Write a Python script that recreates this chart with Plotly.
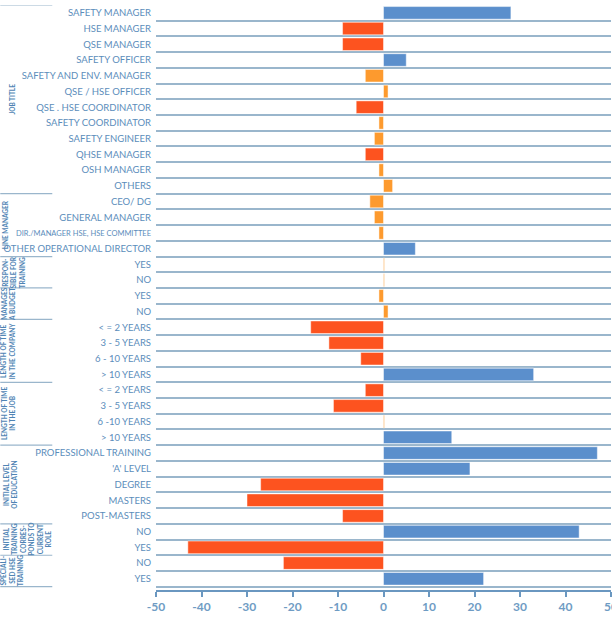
import plotly.graph_objects as go

# ---------------- data ----------------
labels = [
    "SAFETY MANAGER", "HSE MANAGER", "QSE MANAGER", "SAFETY OFFICER",
    "SAFETY AND ENV. MANAGER", "QSE / HSE OFFICER", "QSE . HSE COORDINATOR",
    "SAFETY COORDINATOR", "SAFETY ENGINEER", "QHSE MANAGER", "OSH MANAGER", "OTHERS",
    "CEO/ DG", "GENERAL MANAGER", "DIR./MANAGER HSE, HSE COMMITTEE", "OTHER OPERATIONAL DIRECTOR",
    "YES", "NO", "YES", "NO",
    "< = 2 YEARS", "3 - 5 YEARS", "6 - 10 YEARS", "> 10 YEARS",
    "< = 2 YEARS", "3 - 5 YEARS", "6 -10 YEARS", "> 10 YEARS",
    "PROFESSIONAL TRAINING", "'A' LEVEL", "DEGREE", "MASTERS", "POST-MASTERS",
    "NO", "YES", "NO", "YES",
]
values = [
    28, -9, -9, 5, -4, 1, -6, -1, -2, -4, -1, 2,
    -3, -2, -1, 7,
    0.2, 0.2, -1, 1,
    -16, -12, -5, 33,
    -4, -11, 0.2, 15,
    47, 19, -27, -30, -9,
    43, -43, -22, 22,
]
# colour class of each bar: b = blue, r = red, o = orange
classes = [
    "b", "r", "r", "b", "o", "o", "r", "o", "o", "r", "o", "o",
    "o", "o", "o", "b",
    "o", "o", "o", "o",
    "r", "r", "r", "b",
    "r", "r", "o", "b",
    "b", "b", "r", "r", "r",
    "b", "r", "r", "b",
]
groups = [
    ("JOB TITLE", 12),
    ("LINE MANAGER", 4),
    ("RESPON-<br>SIBLE FOR<br>TRAINING", 2),
    ("MANAGES<br>A BUDGET", 2),
    ("LENGTH OF TIME<br>IN THE COMPANY", 4),
    ("LENGTH OF TIME<br>IN THE JOB", 4),
    ("INITIAL LEVEL<br>OF EDUCATION", 5),
    ("INITIAL<br>TRAINING<br>CORRES-<br>PONDS TO<br>CURRENT<br>ROLE", 2),
    ("SPECIALI-<br>SED HSE<br>TRAINING", 2),
]
x_ticks = [-50, -40, -30, -20, -10, 0, 10, 20, 30, 40, 50]

# ---------------- styling ----------------
palette = {"b": "#5b8fcc", "r": "#fd531f", "o": "#fd9a2e"}
text_col = "#5b8dbb"
grid_col = "#9ab6cc"

W, H = 612, 621
left_px, right_px = 155.7, 610.6
top_px, bottom_px = 5.4, 590.0
row_px = 15.71

def xp(px):
    return (px - left_px) / (right_px - left_px)

n = len(labels)
rows = list(range(n))
ytext = []
for lab in labels:
    if lab.startswith("DIR./"):
        ytext.append('<span style="font-size:7.5px">' + lab + "</span>")
    else:
        ytext.append(lab)

fig = go.Figure(go.Bar(
    x=values, y=rows, orientation="h",
    marker=dict(color=[palette[c] for c in classes],
                line=dict(color="rgba(255,255,255,0.6)", width=0.8)),
    width=0.8, showlegend=False, hoverinfo="x+y",
))

y_max = -0.5 + (bottom_px - top_px) / row_px

fig.update_layout(
    width=W, height=H,
    margin=dict(l=left_px, r=W - right_px, t=top_px, b=H - bottom_px, autoexpand=False),
    paper_bgcolor="white", plot_bgcolor="white",
    font=dict(family="Lato, 'Open Sans', sans-serif", color=text_col),
    bargap=0.2,
    xaxis=dict(
        range=[-50, 50], tickvals=x_ticks, ticktext=[str(v) for v in x_ticks],
        showgrid=False, zeroline=False, automargin=False, ticklabeloverflow="allow",
        showline=True, linecolor="#6a97c0", linewidth=1.5,
        ticks="outside", ticklen=5, tickwidth=1.5, tickcolor="#6a97c0",
        tickfont=dict(size=12, color="#6f9cc4", weight="bold"),
    ),
    yaxis=dict(
        range=[y_max, -0.5], tickvals=rows, ticktext=ytext,
        showgrid=False, zeroline=False, automargin=False,
        ticks="", ticklabelstandoff=4,
        tickfont=dict(size=9.5, color=text_col),
        minor=dict(tick0=0.5, dtick=1, showgrid=True, gridcolor=grid_col,
                   gridwidth=1.5, ticks=""),
    ),
)

# group separators in the left column and rotated group labels
shapes = []
annotations = []
label_x = {
    "JOB TITLE": 12, "LINE MANAGER": 5,
    "RESPON-<br>SIBLE FOR<br>TRAINING": 14, "MANAGES<br>A BUDGET": 8,
    "LENGTH OF TIME<br>IN THE COMPANY": 8, "LENGTH OF TIME<br>IN THE JOB": 8,
    "INITIAL LEVEL<br>OF EDUCATION": 10,
    "INITIAL<br>TRAINING<br>CORRES-<br>PONDS TO<br>CURRENT<br>ROLE": 27,
    "SPECIALI-<br>SED HSE<br>TRAINING": 12,
}
start = 0
shapes.append(dict(type="line", xref="paper", yref="y", x0=xp(0), x1=xp(52),
                   y0=-0.5, y1=-0.5, line=dict(color=grid_col, width=1.2)))
for name, cnt in groups:
    end = start + cnt
    shapes.append(dict(type="line", xref="paper", yref="y", x0=xp(0), x1=xp(52),
                       y0=end - 0.5, y1=end - 0.5, line=dict(color=grid_col, width=1.2)))
    annotations.append(dict(
        text=name, xref="paper", yref="y", x=xp(label_x[name]), y=start + (cnt - 1) / 2,
        textangle=-90, showarrow=False, xanchor="center", yanchor="middle",
        font=dict(size=6.5, color="#4f84b4", weight="bold"), align="center",
    ))
    start = end

fig.update_layout(shapes=shapes, annotations=annotations)
fig.write_html(
    "out.html",
    config={"displayModeBar": False},
    post_script="document.body.style.margin='0';document.body.style.overflow='hidden';",
)
